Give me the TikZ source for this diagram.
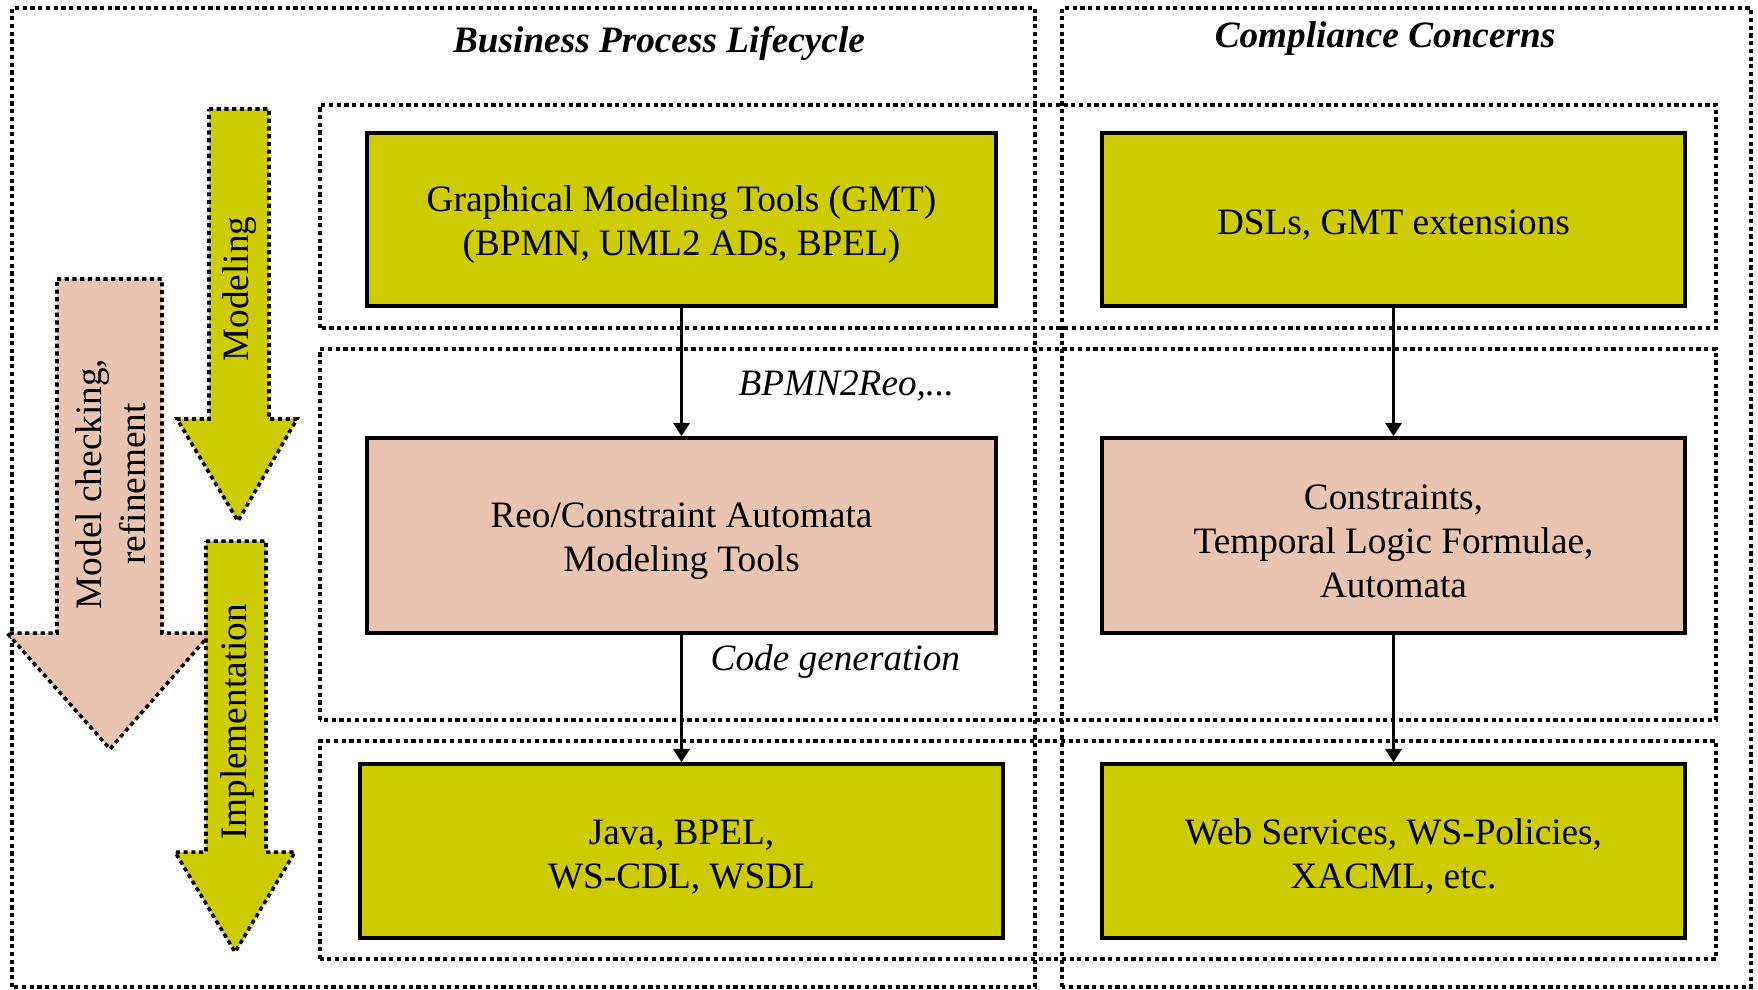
\documentclass[tikz,border=0pt]{standalone}
\usepackage{fontspec}
\setmainfont{Liberation Serif}
\usetikzlibrary{arrows.meta}
\definecolor{olivebox}{HTML}{CCCC00}
\definecolor{salmonbox}{HTML}{E9C4B1}
\newcommand\sz{\fontsize{10.6}{12.6}\selectfont}
\newcommand\up{\rule{0pt}{10.4pt}}

\begin{document}
\begin{tikzpicture}[
  font=\sz,
  dots/.style={line width=1pt, dash pattern=on 1.2pt off 1pt},
  toolbox/.style={draw, line width=1pt, align=center, inner sep=0pt},
  flow/.style={line width=0.9pt, -{Triangle[length=3.8pt,width=4.6pt]}},
  phase/.style={dots, fill=#1},
  tag/.style={font=\sz\itshape, anchor=base west, inner sep=0pt}
]
\useasboundingbox (0,0) rectangle (17.58,9.89);
% columns
\draw[dots] (0.12,0.02) rectangle (10.35,9.81);
\draw[dots] (10.62,0.02) rectangle (17.51,9.81);
\node[font=\sz\bfseries\itshape, anchor=base] (bpl) at (6.59,9.37) {Business Process Lifecycle};
\node[font=\sz\bfseries\itshape, anchor=base] (cc) at (13.85,9.42) {Compliance Concerns};
% rows
\draw[dots] (3.20,6.61) rectangle (17.16,8.84);
\draw[dots] (3.20,2.69) rectangle (17.16,6.40);
\draw[dots] (3.20,0.30) rectangle (17.16,2.48);
% phase arrows
\draw[phase=olivebox] (2.09,8.80) -- (2.69,8.80) -- (2.69,5.70) -- (2.97,5.70) -- (2.38,4.68) -- (1.77,5.70) -- (2.09,5.70) -- cycle;
\draw[phase=salmonbox] (0.57,7.10) -- (1.62,7.10) -- (1.62,3.56) -- (2.11,3.56) -- (1.10,2.40) -- (0.07,3.56) -- (0.57,3.56) -- cycle;
\draw[phase=olivebox] (2.06,4.48) -- (2.66,4.48) -- (2.66,1.37) -- (2.95,1.37) -- (2.35,0.37) -- (1.75,1.37) -- (2.06,1.37) -- cycle;
\node[rotate=90] (modeling) at (2.40,7.00) {Modeling};
\node[rotate=90, align=center] (checking) at (1.11,5.05) {Model checking,\\refinement};
\node[rotate=90] (impl) at (2.38,2.67) {Implementation};
% tools
\node[toolbox, fill=olivebox, minimum width=6.29cm, minimum height=1.73cm] (gmt) at (6.815,7.695) {\up Graphical Modeling Tools (GMT)\\(BPMN, UML2 ADs, BPEL)};
\node[toolbox, fill=salmonbox, minimum width=6.29cm, minimum height=1.95cm] (reo) at (6.815,4.535) {\up Reo/Constraint Automata\\Modeling Tools};
\node[toolbox, fill=olivebox, minimum width=6.43cm, minimum height=1.74cm] (java) at (6.815,1.38) {\up Java, BPEL,\\WS-CDL, WSDL};
\node[toolbox, fill=olivebox, minimum width=5.83cm, minimum height=1.73cm] (dsl) at (13.935,7.695) {\up DSLs, GMT extensions};
\node[toolbox, fill=salmonbox, minimum width=5.83cm, minimum height=1.95cm] (cons) at (13.935,4.535) {\up Constraints,\\Temporal Logic Formulae,\\Automata};
\node[toolbox, fill=olivebox, minimum width=5.83cm, minimum height=1.74cm] (ws) at (13.935,1.38) {\up Web Services, WS-Policies,\\XACML, etc.};
% transformations
\draw[flow] (gmt) -- (reo);
\draw[flow] (reo) -- (java);
\draw[flow] (dsl) -- (cons);
\draw[flow] (cons) -- (ws);
\node[tag] (bpmnreo) at (7.38,5.94) {BPMN2Reo,...};
\node[tag] (codegen) at (7.10,3.19) {Code generation};
\end{tikzpicture}
\end{document}
